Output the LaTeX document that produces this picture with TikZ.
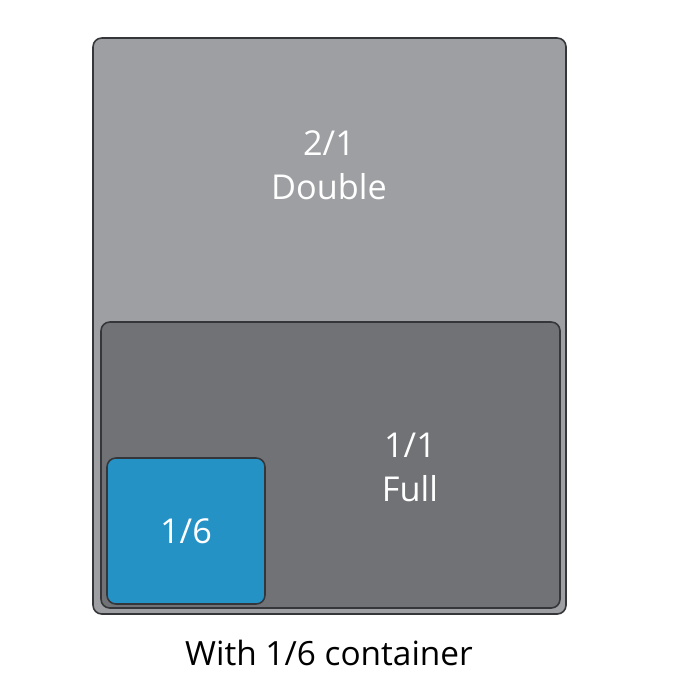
\documentclass[tikz,border=0pt]{standalone}
\usepackage{fontspec}
\setmainfont{Open Sans}
\usepackage{tikz}
\usetikzlibrary{positioning}
\definecolor{pangrey}{HTML}{9D9FA2}
\definecolor{fullgrey}{HTML}{707275}
\definecolor{sixblue}{HTML}{2592C6}
\definecolor{rim}{HTML}{35363A}

\begin{document}
\begin{tikzpicture}[x=0.02cm,y=-0.02cm,
  pan/.style={draw=rim,line width=0.9pt,rounded corners=5pt},
  label/.style={text=white,font=\fontsize{19.5}{25}\selectfont,align=center}]
  \useasboundingbox (0,0) rectangle (700,700);
  % pans, back to front
  \draw[pan,fill=pangrey] (93,38) rectangle (566,614);
  \draw[pan,fill=fullgrey] (101,322) rectangle (560,608);
  \node[pan,fill=sixblue,minimum width=3.16cm,minimum height=2.92cm,
        label] (six) at (186,531) {\raisebox{-2pt}{1/6}};
  \node[label] (double) at (329,165) {2/1\\Double};
  \node[label] (full) at (410,467) {1/1\\Full};
  \node[font=\fontsize{19}{23}\selectfont] (cap) at (329,653) {With 1/6 container};
\end{tikzpicture}
\end{document}
